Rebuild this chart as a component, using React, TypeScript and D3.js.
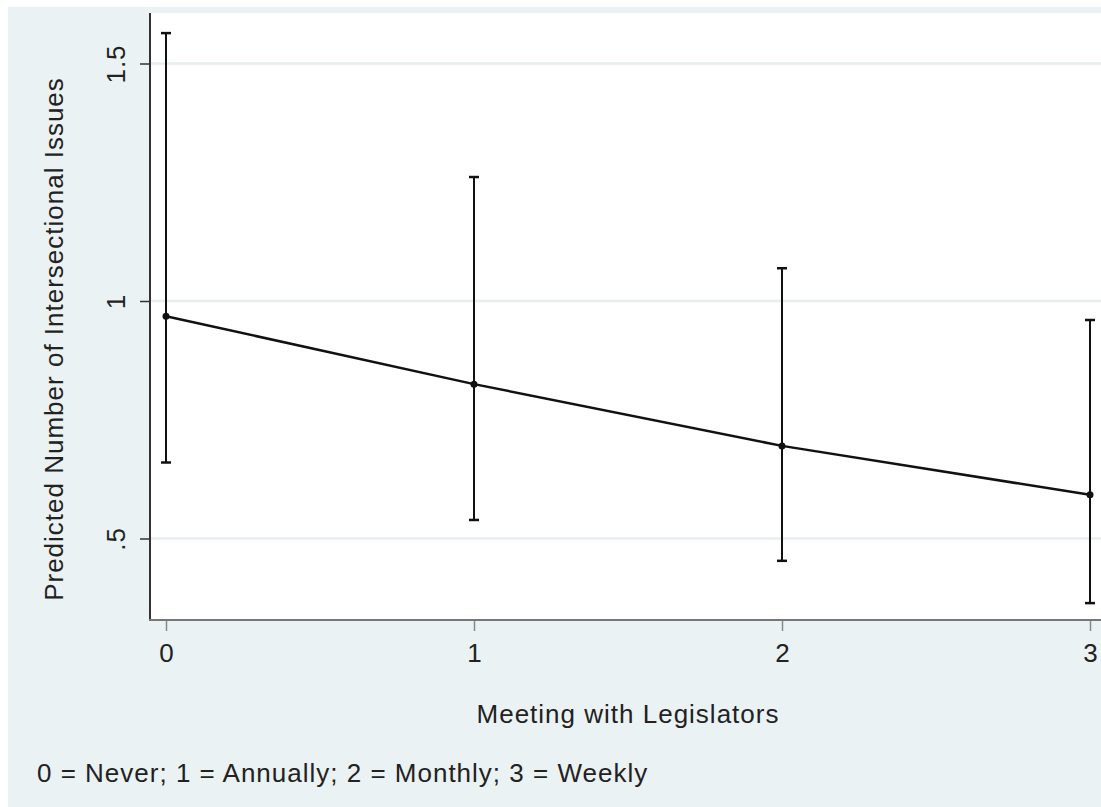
import React, { useEffect, useRef } from "react";
import * as d3 from "d3";

// values
const levels = [0, 1, 2, 3];
const predicted = [0.968, 0.825, 0.695, 0.592];
const ciLow = [0.66, 0.539, 0.453, 0.364];
const ciHigh = [1.564, 1.261, 1.069, 0.96];
const yTicks = [0.5, 1, 1.5];
const yTickLabels = [".5", "1", "1.5"];

const W = 1101;
const H = 807;
const FONT = "Arial, 'Liberation Sans', sans-serif";
const FS = "26px";
const LS = "1px";

export default function App() {
  const ref = useRef<SVGSVGElement>(null);

  useEffect(() => {
    const svg = d3.select(ref.current);
    svg.selectAll("*").remove();

    const plot = { left: 150, right: W + 2, top: 13, bottom: 620 };

    const x = d3.scaleLinear().domain([0, 3]).range([166, 1090]);
    const y = d3.scaleLinear().domain([0.5, 1.5]).range([538.5, 63.5]);

    // outer background
    svg.append("rect").attr("x", 8).attr("y", 7).attr("width", W).attr("height", H)
      .attr("fill", "#eaf2f3");

    // plot area
    svg.append("rect")
      .attr("x", plot.left).attr("y", plot.top)
      .attr("width", plot.right - plot.left).attr("height", plot.bottom - plot.top)
      .attr("fill", "#ffffff");

    // gridlines
    svg.append("g").selectAll("line").data(yTicks).join("line")
      .attr("x1", plot.left).attr("x2", plot.right)
      .attr("y1", (d) => y(d)).attr("y2", (d) => y(d))
      .attr("stroke", "#e6eef0").attr("stroke-width", 2.5);

    // y axis
    const yAxis = svg.append("g")
      .attr("transform", `translate(${plot.left},0)`)
      .call(d3.axisLeft(y).tickValues(yTicks).tickSize(10).tickPadding(0)
        .tickFormat((d, i) => yTickLabels[i]));
    yAxis.select(".domain").remove();
    yAxis.selectAll(".tick line").attr("stroke", "#333").attr("stroke-width", 1.5);
    yAxis.selectAll(".tick text")
      .attr("x", 0).attr("y", 0).attr("dy", null)
      .attr("transform", "translate(-25,0) rotate(-90)")
      .attr("text-anchor", "middle")
      .style("font-family", FONT).style("font-size", FS).style("letter-spacing", LS)
      .attr("fill", "#222");
    svg.append("line")
      .attr("x1", plot.left).attr("x2", plot.left)
      .attr("y1", plot.top).attr("y2", plot.bottom + 1)
      .attr("stroke", "#333").attr("stroke-width", 2);

    // x axis
    const xAxis = svg.append("g")
      .attr("transform", `translate(0,${plot.bottom})`)
      .call(d3.axisBottom(x).tickValues(levels).tickSize(11).tickPadding(0)
        .tickFormat(d3.format("d")));
    xAxis.select(".domain").remove();
    xAxis.selectAll(".tick line").attr("stroke", "#888").attr("stroke-width", 1.5);
    xAxis.selectAll(".tick text")
      .attr("y", 42).attr("dy", null)
      .style("font-family", FONT).style("font-size", FS).attr("fill", "#222");
    svg.append("line")
      .attr("x1", plot.left - 1).attr("x2", plot.right)
      .attr("y1", plot.bottom).attr("y2", plot.bottom)
      .attr("stroke", "#777").attr("stroke-width", 2);

    // error bars
    const bars = svg.append("g").selectAll("g").data(levels).join("g");
    bars.append("line")
      .attr("x1", (d) => x(d)).attr("x2", (d) => x(d))
      .attr("y1", (d, i) => y(ciLow[i])).attr("y2", (d, i) => y(ciHigh[i]))
      .attr("stroke", "#111").attr("stroke-width", 2);
    bars.append("line")
      .attr("x1", (d) => x(d) - 5).attr("x2", (d) => x(d) + 5)
      .attr("y1", (d, i) => y(ciLow[i])).attr("y2", (d, i) => y(ciLow[i]))
      .attr("stroke", "#111").attr("stroke-width", 2.5);
    bars.append("line")
      .attr("x1", (d) => x(d) - 5).attr("x2", (d) => x(d) + 5)
      .attr("y1", (d, i) => y(ciHigh[i])).attr("y2", (d, i) => y(ciHigh[i]))
      .attr("stroke", "#111").attr("stroke-width", 2.5);

    // predicted line
    const line = d3.line<number>().x((d) => x(d)).y((d, i) => y(predicted[i]));
    svg.append("path").datum(levels).attr("d", line)
      .attr("fill", "none").attr("stroke", "#111").attr("stroke-width", 2.5);
    svg.append("g").selectAll("circle").data(levels).join("circle")
      .attr("cx", (d) => x(d)).attr("cy", (d, i) => y(predicted[i]))
      .attr("r", 3.5).attr("fill", "#111");

    // titles
    svg.append("text")
      .attr("transform", `translate(63,339) rotate(-90)`)
      .attr("text-anchor", "middle")
      .style("font-family", FONT).style("font-size", FS).style("letter-spacing", LS)
      .attr("fill", "#222")
      .text("Predicted Number of Intersectional Issues");
    svg.append("text")
      .attr("x", 628).attr("y", 723)
      .attr("text-anchor", "middle")
      .style("font-family", FONT).style("font-size", FS).style("letter-spacing", LS)
      .attr("fill", "#222")
      .text("Meeting with Legislators");
    svg.append("text")
      .attr("x", 37).attr("y", 782)
      .style("font-family", FONT).style("font-size", FS).style("letter-spacing", LS)
      .attr("fill", "#222")
      .text("0 = Never; 1 = Annually; 2 = Monthly; 3 = Weekly");
  }, []);

  return (
    <svg
      ref={ref}
      width={W}
      height={H}
      style={{ position: "absolute", left: 0, top: 0, background: "#ffffff" }}
    />
  );
}
